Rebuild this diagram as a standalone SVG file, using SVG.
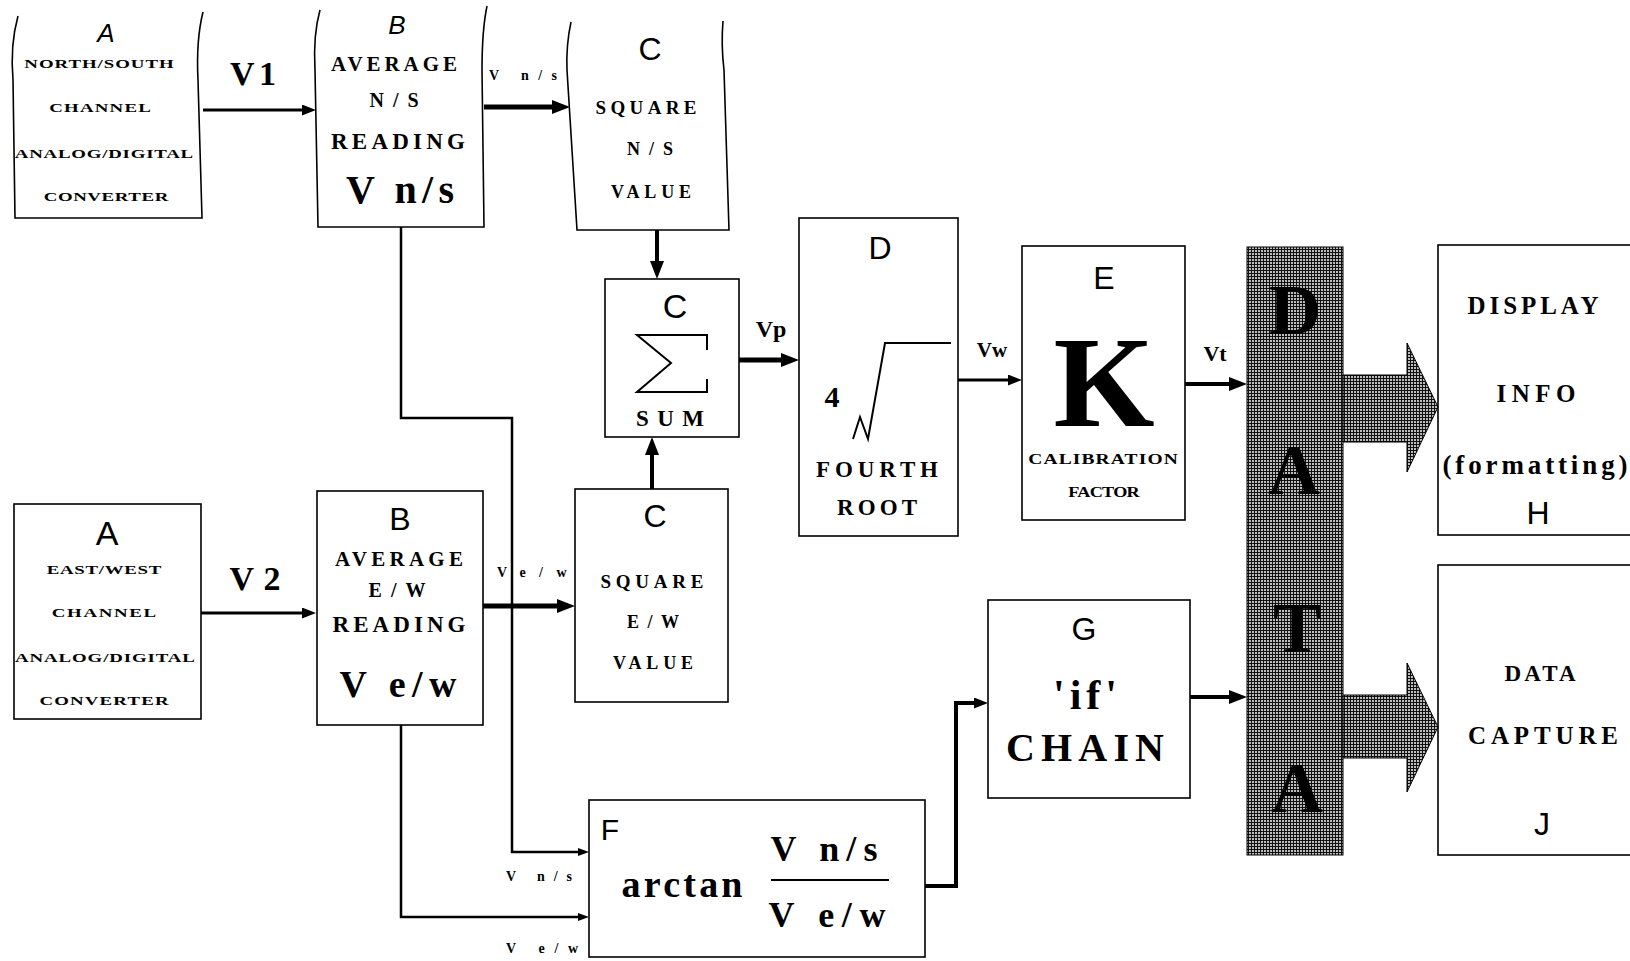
<svg xmlns="http://www.w3.org/2000/svg" width="1630" height="961" viewBox="0 0 1630 961">
<defs>
<style>
.bx{fill:none;stroke:#000;stroke-width:1.6}
.t{font-family:"Liberation Serif",serif;font-weight:bold;fill:#000;text-anchor:middle}
.s{font-family:"Liberation Sans",sans-serif;fill:#000;text-anchor:middle}
.i{font-style:italic}
.ln{fill:none;stroke:#000}
.blk{fill:url(#hatch);stroke:#000;stroke-width:1}
</style>
<pattern id="hatch" width="3" height="3" patternUnits="userSpaceOnUse">
<rect width="3" height="3" fill="#111"/>
<rect x="1" y="1" width="2" height="2" fill="#bdbdbd"/>
</pattern>
<marker id="mBig" viewBox="0 0 18 14" refX="4" refY="7" markerWidth="18" markerHeight="14" markerUnits="userSpaceOnUse" orient="auto">
<path d="M0,0 L18,7 L0,14 Z" fill="#000"/>
</marker>
<marker id="mMed" viewBox="0 0 14 11" refX="3" refY="5.5" markerWidth="14" markerHeight="11" markerUnits="userSpaceOnUse" orient="auto">
<path d="M0,0 L14,5.5 L0,11 Z" fill="#000"/>
</marker>
<marker id="mSmall" viewBox="0 0 11 8" refX="3" refY="4" markerWidth="11" markerHeight="8" markerUnits="userSpaceOnUse" orient="auto">
<path d="M0,0 L11,4 L0,8 Z" fill="#000"/>
</marker>
</defs>
<rect width="1630" height="961" fill="#fff"/>

<g id="A1">
<path class="bx" d="M18,16 Q10,45 13,80 L15,218 L202,218 L198,80 Q196,40 203,12"/>
<text class="s i" x="106" y="42" font-size="26">A</text>
<text class="t" transform="translate(99,68) scale(1.45,1)" font-size="13" textLength="103" lengthAdjust="spacing">NORTH/SOUTH</text>
<text class="t" transform="translate(100,112) scale(1.45,1)" font-size="13" textLength="70" lengthAdjust="spacing">CHANNEL</text>
<text class="t" transform="translate(104,158) scale(1.45,1)" font-size="13" textLength="123" lengthAdjust="spacing">ANALOG/DIGITAL</text>
<text class="t" transform="translate(106,201) scale(1.45,1)" font-size="13" textLength="86" lengthAdjust="spacing">CONVERTER</text>
</g>

<g id="B1">
<path class="bx" d="M320,10 Q313,35 315,70 L318,227 L484,227 L482,70 Q482,30 487,6"/>
<text class="s i" x="397" y="34" font-size="26">B</text>
<text class="t" x="394" y="71" font-size="21" textLength="126" lengthAdjust="spacing">AVERAGE</text>
<text class="t" x="394" y="107" font-size="20" textLength="49" lengthAdjust="spacing">N/S</text>
<text class="t" x="398" y="149" font-size="23" textLength="134" lengthAdjust="spacing">READING</text>
<text class="t" x="400" y="203" font-size="40" textLength="108" lengthAdjust="spacing">V n/s</text>
</g>

<g id="C1">
<path class="bx" d="M571,22 Q566,45 567,70 L577,230 L729,230 L724,70 Q721,45 723,21"/>
<text class="s" x="650" y="60" font-size="32">C</text>
<text class="t" x="646" y="114" font-size="19" textLength="101" lengthAdjust="spacing">SQUARE</text>
<text class="t" x="650" y="155" font-size="18" textLength="46" lengthAdjust="spacing">N/S</text>
<text class="t" x="651" y="198" font-size="18" textLength="80" lengthAdjust="spacing">VALUE</text>
</g>

<g id="SUM">
<rect class="bx" x="605" y="279" width="134" height="158"/>
<text class="s" x="675" y="318" font-size="34">C</text>
<path d="M707,350 V335 H637 L671,363 L637,392 H707 V379" fill="none" stroke="#000" stroke-width="2"/>
<text class="t" x="670" y="426" font-size="23" textLength="68" lengthAdjust="spacing">SUM</text>
</g>

<g id="D">
<rect class="bx" x="799" y="218" width="159" height="318"/>
<text class="s" x="880" y="259" font-size="32">D</text>
<text class="t" x="832" y="407" font-size="30">4</text>
<path d="M853,439 L860,417 L868,439 L885,343 L951,343" fill="none" stroke="#000" stroke-width="2"/>
<text class="t" x="877" y="477" font-size="23" textLength="122" lengthAdjust="spacing">FOURTH</text>
<text class="t" x="877" y="515" font-size="23" textLength="80" lengthAdjust="spacing">ROOT</text>
</g>

<g id="E">
<rect class="bx" x="1022" y="246" width="163" height="274"/>
<text class="s" x="1104" y="289" font-size="32">E</text>
<text class="t" x="1104" y="426" font-size="130">K</text>
<text class="t" transform="translate(1103,464) scale(1.3,1)" font-size="15" textLength="115" lengthAdjust="spacing">CALIBRATION</text>
<text class="t" transform="translate(1104,497) scale(1.3,1)" font-size="14" textLength="55" lengthAdjust="spacing">FACTOR</text>
</g>

<g id="DATA">
<rect class="blk" x="1247" y="247" width="96" height="608"/>
<text class="t" x="1295" y="334" font-size="72">D</text>
<text class="t" x="1294" y="494" font-size="72">A</text>
<text class="t" x="1297" y="652" font-size="72">T</text>
<text class="t" x="1297" y="812" font-size="72">A</text>
</g>

<g id="H">
<rect class="bx" x="1438" y="245" width="210" height="290"/>
<text class="t" x="1533" y="314" font-size="25" textLength="131" lengthAdjust="spacing">DISPLAY</text>
<text class="t" x="1536" y="402" font-size="25" textLength="79" lengthAdjust="spacing">INFO</text>
<text class="t" x="1535" y="474" font-size="27" textLength="185" lengthAdjust="spacing">(formatting)</text>
<text class="s" x="1538" y="524" font-size="32">H</text>
</g>

<g id="J">
<rect class="bx" x="1438" y="565" width="210" height="290"/>
<text class="t" x="1540" y="681" font-size="23" textLength="71" lengthAdjust="spacing">DATA</text>
<text class="t" x="1543" y="744" font-size="25" textLength="150" lengthAdjust="spacing">CAPTURE</text>
<text class="s" x="1542" y="835" font-size="32">J</text>
</g>

<g id="G">
<rect class="bx" x="988" y="600" width="202" height="198"/>
<text class="s" x="1084" y="640" font-size="32">G</text>
<text class="t" x="1085" y="709" font-size="42" textLength="64" lengthAdjust="spacing">'if'</text>
<text class="t" x="1085" y="761" font-size="40" textLength="158" lengthAdjust="spacing">CHAIN</text>
</g>

<g id="F">
<rect class="bx" x="589" y="800" width="336" height="157"/>
<text class="s" x="610" y="840" font-size="30">F</text>
<text class="t" x="682" y="897" font-size="38" textLength="121" lengthAdjust="spacing">arctan</text>
<text class="t" x="824" y="861" font-size="36" textLength="107" lengthAdjust="spacing">V n/s</text>
<line x1="771" y1="880" x2="889" y2="880" stroke="#000" stroke-width="2"/>
<text class="t" x="827" y="927" font-size="36" textLength="117" lengthAdjust="spacing">V e/w</text>
</g>

<g id="A2">
<rect class="bx" x="14" y="504" width="187" height="215"/>
<text class="s" x="107" y="545" font-size="34">A</text>
<text class="t" transform="translate(104,574) scale(1.45,1)" font-size="13" textLength="79" lengthAdjust="spacing">EAST/WEST</text>
<text class="t" transform="translate(104,617) scale(1.45,1)" font-size="13" textLength="72" lengthAdjust="spacing">CHANNEL</text>
<text class="t" transform="translate(105,662) scale(1.45,1)" font-size="13" textLength="124" lengthAdjust="spacing">ANALOG/DIGITAL</text>
<text class="t" transform="translate(104,705) scale(1.45,1)" font-size="13" textLength="89" lengthAdjust="spacing">CONVERTER</text>
</g>

<g id="B2">
<rect class="bx" x="317" y="491" width="166" height="234"/>
<text class="s" x="400" y="530" font-size="32">B</text>
<text class="t" x="399" y="566" font-size="21" textLength="128" lengthAdjust="spacing">AVERAGE</text>
<text class="t" x="397" y="597" font-size="20" textLength="57" lengthAdjust="spacing">E/W</text>
<text class="t" x="399" y="632" font-size="23" textLength="133" lengthAdjust="spacing">READING</text>
<text class="t" x="398" y="697" font-size="38" textLength="117" lengthAdjust="spacing">V e/w</text>
</g>

<g id="C2">
<rect class="bx" x="575" y="489" width="153" height="213"/>
<text class="s" x="655" y="527" font-size="32">C</text>
<text class="t" x="652" y="588" font-size="19" textLength="103" lengthAdjust="spacing">SQUARE</text>
<text class="t" x="653" y="628" font-size="18" textLength="52" lengthAdjust="spacing">E/W</text>
<text class="t" x="653" y="669" font-size="18" textLength="80" lengthAdjust="spacing">VALUE</text>
</g>

<g id="connectors">
<path class="ln" stroke-width="3" d="M203,110 H305" marker-end="url(#mMed)"/>
<path class="ln" stroke-width="5" d="M484,107 H556" marker-end="url(#mBig)"/>
<path class="ln" stroke-width="4" d="M657,230 V265" marker-end="url(#mBig)"/>
<path class="ln" stroke-width="4" d="M652,489 V451" marker-end="url(#mBig)"/>
<path class="ln" stroke-width="5" d="M739,360 H785" marker-end="url(#mBig)"/>
<path class="ln" stroke-width="3" d="M958,380 H1011" marker-end="url(#mMed)"/>
<path class="ln" stroke-width="4" d="M1185,384 H1233" marker-end="url(#mBig)"/>
<path class="ln" stroke-width="4" d="M1190,697 H1233" marker-end="url(#mBig)"/>
<path class="ln" stroke-width="3" d="M201,613 H305" marker-end="url(#mMed)"/>
<path class="ln" stroke-width="5" d="M483,606 H561" marker-end="url(#mBig)"/>
<path class="ln" stroke-width="2.5" d="M401,227 V418 H512 V852 H581" marker-end="url(#mSmall)"/>
<path class="ln" stroke-width="2.5" d="M401,725 V917 H581" marker-end="url(#mSmall)"/>
<path class="ln" stroke-width="4" d="M925,886 H956 V703 H977" marker-end="url(#mMed)"/>
<path class="blk" d="M1343,375 H1407 V343 L1438,407 L1407,472 V442 H1343 Z"/>
<path class="blk" d="M1343,695 H1407 V663 L1438,727 L1407,792 V758 H1343 Z"/>
<text class="t" x="253" y="85" font-size="34" textLength="46" lengthAdjust="spacing">V1</text>
<text class="t" x="523" y="80" font-size="14" textLength="68" lengthAdjust="spacing">V n/s</text>
<text class="t" x="771" y="337" font-size="24">Vp</text>
<text class="t" x="992" y="357" font-size="21">Vw</text>
<text class="t" x="1215" y="361" font-size="22">Vt</text>
<text class="t" x="255" y="590" font-size="34" textLength="51" lengthAdjust="spacing">V2</text>
<text class="t" x="502" y="577" font-size="14">V</text>
<text class="t" x="543" y="577" font-size="14" textLength="47" lengthAdjust="spacing">e/w</text>
<text class="t" x="539" y="881" font-size="14" textLength="66" lengthAdjust="spacing">V n/s</text>
<text class="t" x="542" y="953" font-size="14" textLength="72" lengthAdjust="spacing">V e/w</text>
</g>
</svg>
